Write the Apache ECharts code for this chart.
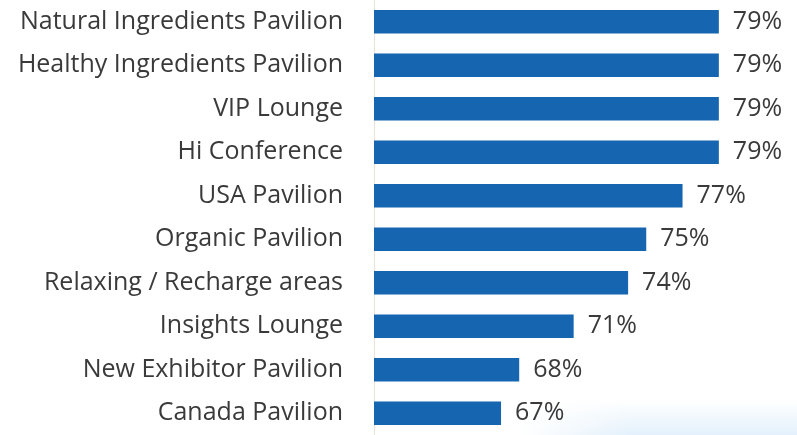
<!DOCTYPE html>
<html>
<head>
<meta charset="utf-8">
<script src="https://cdn.jsdelivr.net/npm/echarts@6/dist/echarts.min.js"></script>
<style>
  html, body { margin: 0; padding: 0; background: #ffffff; }
  #chart { width: 797px; height: 435px; }
</style>
</head>
<body>
<div id="chart"></div>
<script>
// Feature ratings, listed top to bottom
const categories = [
  'Natural Ingredients Pavilion',
  'Healthy Ingredients Pavilion',
  'VIP Lounge',
  'Hi Conference',
  'USA Pavilion',
  'Organic Pavilion',
  'Relaxing / Recharge areas',
  'Insights Lounge',
  'New Exhibitor Pavilion',
  'Canada Pavilion'
];
const values = [79, 79, 79, 79, 77, 75, 74, 71, 68, 67];

const chart = echarts.init(document.getElementById('chart'), null, { renderer: 'canvas' });

chart.setOption({
  animation: false,
  backgroundColor: '#ffffff',
  graphic: [{
    // pale-blue haze along the lower right edge
    type: 'rect',
    left: 520,
    top: 400,
    shape: { width: 277, height: 35 },
    silent: true,
    z: -10,
    style: {
      fill: new echarts.graphic.LinearGradient(0, 0, 0, 1, [
        { offset: 0, color: 'rgba(226,240,251,0)' },
        { offset: 1, color: 'rgba(226,240,251,0.95)' }
      ])
    }
  }, {
    // fades the haze out towards the left
    type: 'rect',
    left: 520,
    top: 400,
    shape: { width: 110, height: 35 },
    silent: true,
    z: -9,
    style: {
      fill: new echarts.graphic.LinearGradient(0, 0, 1, 0, [
        { offset: 0, color: 'rgba(255,255,255,1)' },
        { offset: 1, color: 'rgba(255,255,255,0)' }
      ])
    }
  }],
  grid: {
    left: 374,
    top: -2,
    width: 363,
    height: 446
  },
  xAxis: {
    type: 'value',
    min: 60,
    max: 80,
    show: false
  },
  yAxis: {
    type: 'category',
    data: categories,
    inverse: true,
    axisLine: { show: true, lineStyle: { color: '#ece3d8', width: 1 } },
    axisTick: { show: false },
    axisLabel: {
      margin: 31,
      color: '#3a3a3a',
      fontFamily: 'Open Sans',
      fontSize: 25
    }
  },
  series: [{
    type: 'bar',
    data: values,
    barCategoryGap: '46%',
    itemStyle: { color: '#1565b0' },
    label: {
      show: true,
      position: 'right',
      distance: 14,
      formatter: '{c}%',
      color: '#3a3a3a',
      fontFamily: 'Open Sans',
      fontSize: 25
    }
  }]
});
</script>
</body>
</html>
